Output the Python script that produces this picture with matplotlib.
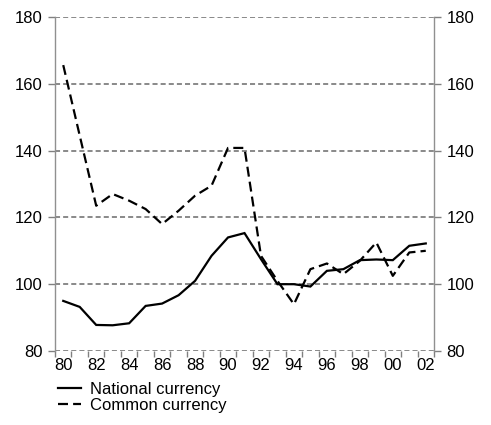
import matplotlib
matplotlib.use("Agg")
import matplotlib.pyplot as plt
from matplotlib.ticker import FixedLocator

years = ['80', '81', '82', '83', '84', '85', '86', '87', '88', '89', '90', '91',
         '92', '93', '94', '95', '96', '97', '98', '99', '00', '01', '02']
national = [95.0, 93.2, 87.8, 87.7, 88.3, 93.5, 94.2, 96.7, 101.0, 108.5, 114.0, 115.3,
            107.5, 100.0, 100.0, 99.3, 104.0, 104.5, 107.2, 107.4, 107.2, 111.5, 112.2]
common = [165.6, 144.5, 123.5, 127.0, 125.0, 122.5, 118.0, 122.0, 126.5, 129.5, 140.8, 140.8,
          108.5, 101.0, 94.0, 104.5, 106.2, 103.0, 107.0, 112.5, 102.5, 109.5, 110.0]
yticks = [80, 100, 120, 140, 160, 180]

plt.rcParams['font.family'] = ['Liberation Sans', 'DejaVu Sans']
FS = 12
fig = plt.figure(figsize=(4.91, 4.25), dpi=100)
W, H = 491, 425
ax = fig.add_axes([55 / W, 1 - 351 / H, (434 - 55) / W, (351 - 17) / H])

x = list(range(len(years)))
ax.plot(x, national, color='black', lw=1.6, solid_joinstyle='miter', label='National currency', zorder=3)
ax.plot(x, common, color='black', lw=1.6, dashes=(4.5, 2.3), label='Common currency', zorder=3)

ax.set_xlim(-0.5, len(years) - 0.5)
ax.set_ylim(80, 180)

for y in yticks:
    ax.axhline(y, color='#808080', lw=1.3, dashes=(2.8, 1.7), zorder=1)

ax.spines['top'].set_visible(False)
ax.spines['bottom'].set_visible(False)
for s in ('left', 'right'):
    ax.spines[s].set_color('#909090')
    ax.spines[s].set_linewidth(1.0)

ax.set_yticks(yticks)
ax.tick_params(axis='y', which='both', left=True, right=True, labelleft=True, labelright=True,
               direction='out', length=5, width=1.0, color='#808080', labelsize=FS, pad=4)

ax.xaxis.set_major_locator(FixedLocator([i - 0.5 for i in range(len(years) + 1)]))
ax.xaxis.set_major_formatter(plt.NullFormatter())
ax.xaxis.set_minor_locator(FixedLocator(x[::2]))
ax.set_xticklabels(years[::2], minor=True)
ax.tick_params(axis='x', which='major', direction='out', length=4, width=1.0, color='#808080')
ax.tick_params(axis='x', which='minor', length=0, labelsize=FS, pad=5)

fig.legend(loc='upper left', bbox_to_anchor=(58 / W, 1 - 382 / H), frameon=False,
           fontsize=FS, handlelength=1.4, handletextpad=0.5, labelspacing=0.05,
           borderaxespad=0, borderpad=0.0)

fig.savefig('out.png', dpi=100)
